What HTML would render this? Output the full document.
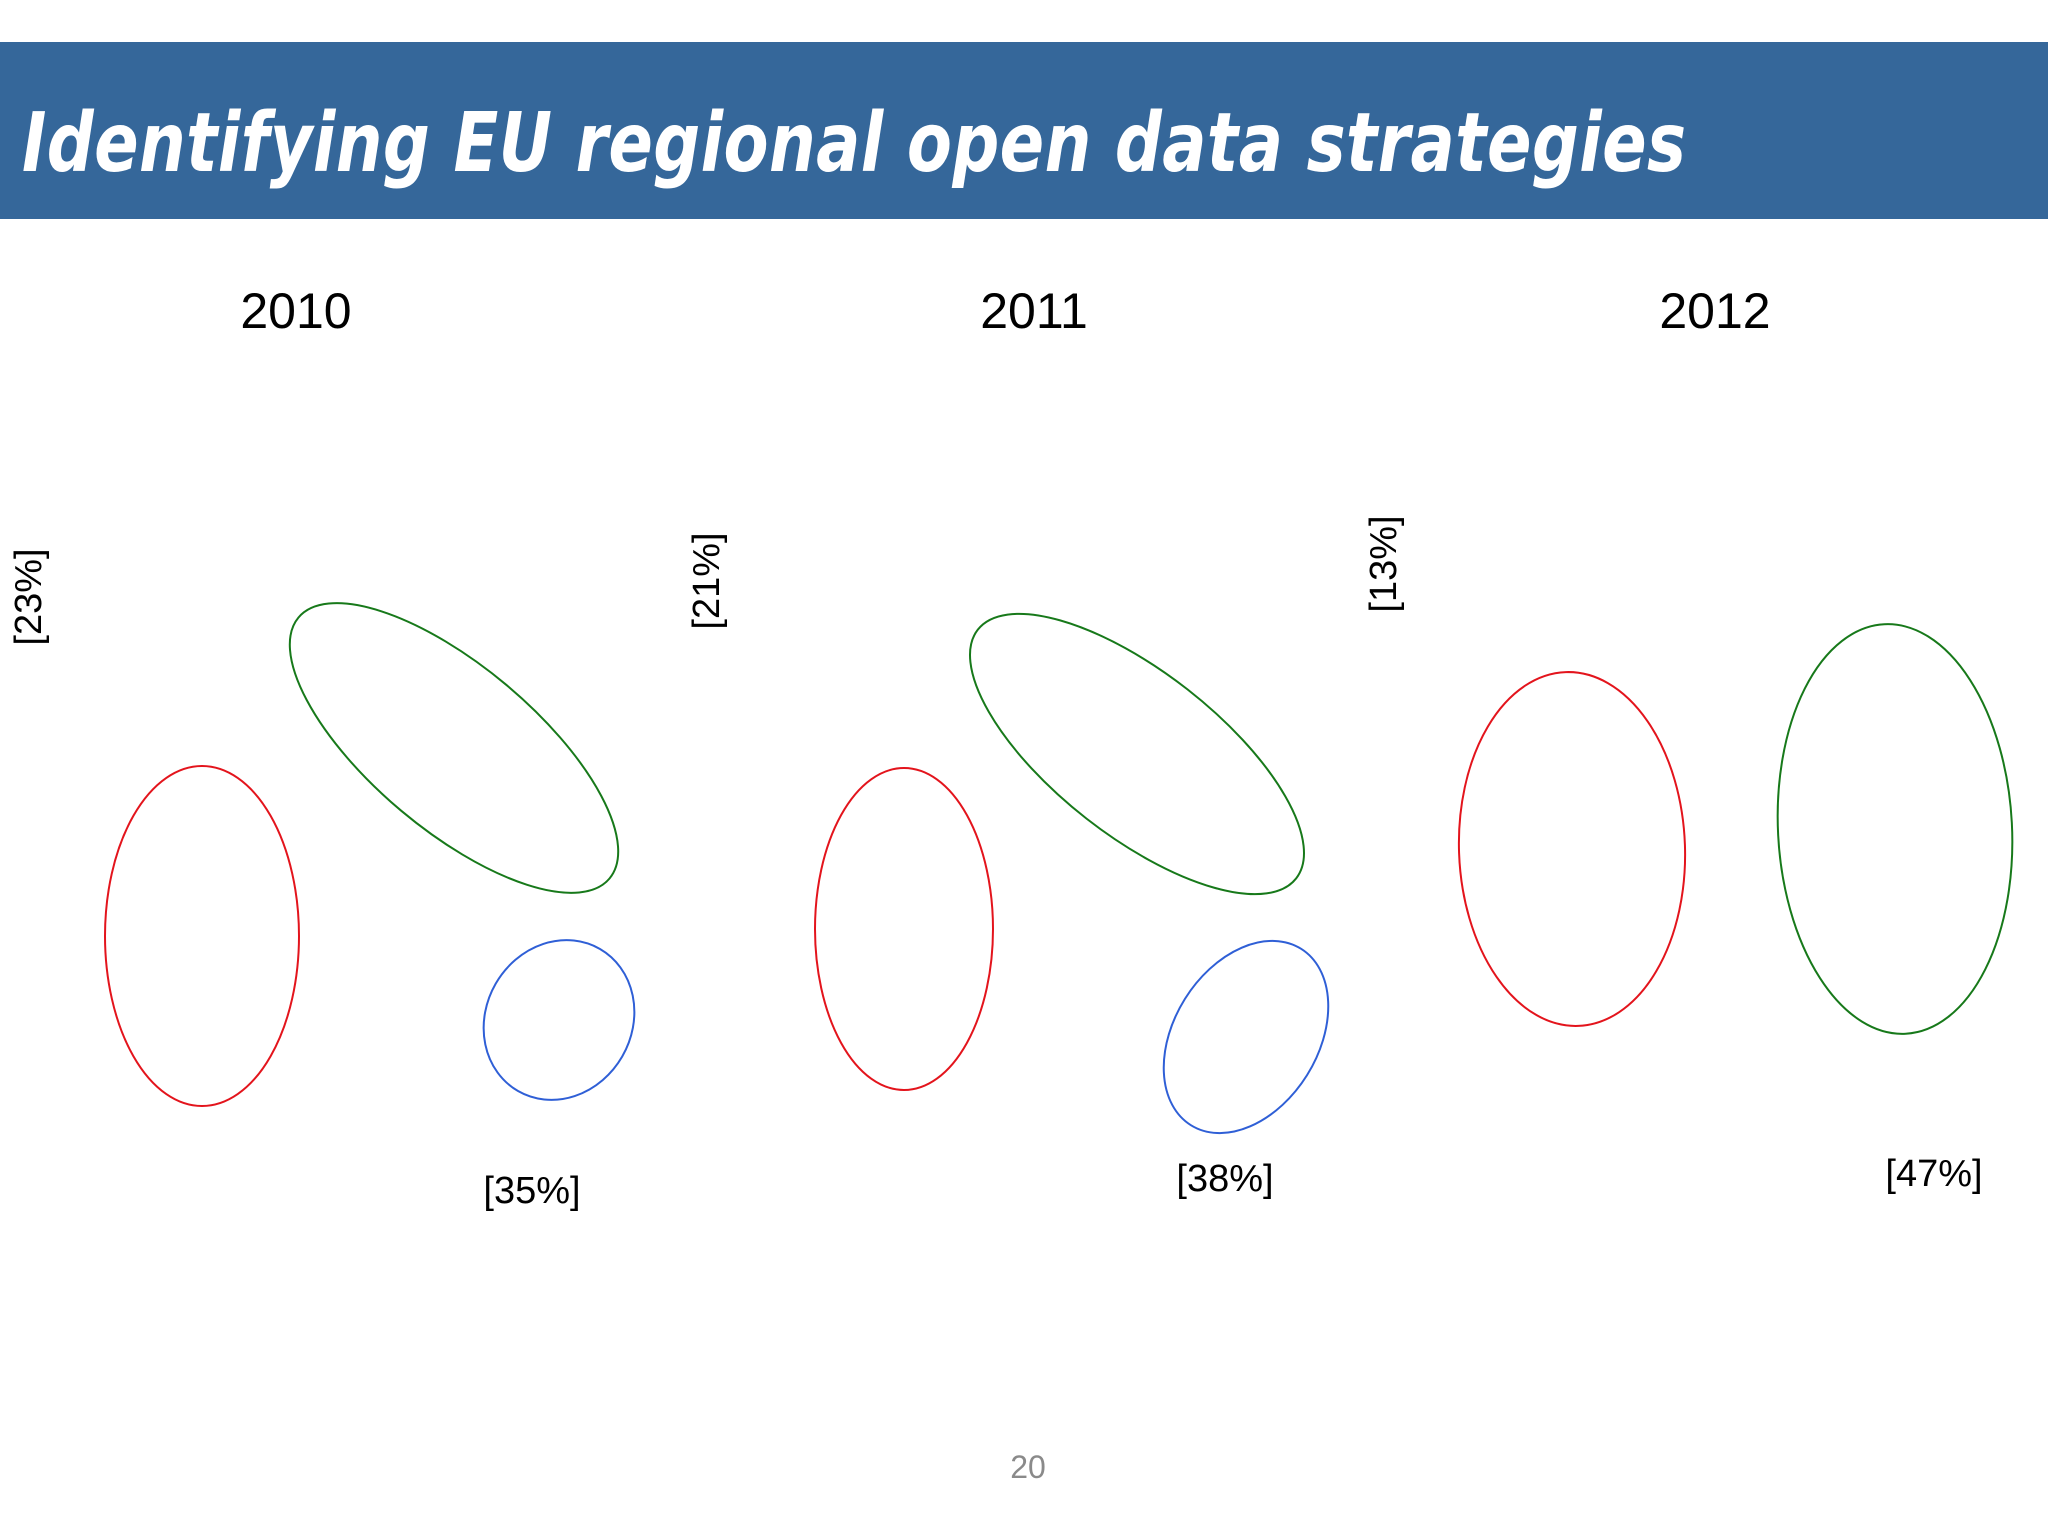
<!DOCTYPE html>
<html><head><meta charset="utf-8"><style>
html,body{margin:0;padding:0;background:#fff;}
body{width:2048px;height:1536px;position:relative;overflow:hidden;font-family:"Liberation Sans",sans-serif;}
#hdr{position:absolute;left:0;top:42px;width:2048px;height:177px;background:#35679a;}
#title{position:absolute;left:22px;top:96px;font-size:82px;font-weight:bold;font-style:italic;color:#fff;white-space:nowrap;letter-spacing:0.5px;font-family:"DejaVu Sans","Liberation Sans",sans-serif;transform:scaleX(0.80);transform-origin:left;}
</style></head><body>
<div id="hdr"></div>
<div id="title">Identifying EU regional open data strategies</div>
<svg id="chart" width="2048" height="1536" style="position:absolute;left:0;top:0"></svg>
<script>
const years = ["2010","2011","2012"];
const sideLabels = ["[23%]","[21%]","[13%]"];
const bottomLabels = ["[35%]","[38%]","[47%]"];
const yearX = [296,1034,1715];
const sideX = [29,707,1384];
const sideY = [597,581,564];
const bottomX = [532,1225,1934];
const bottomY = [1191,1179,1174];
const ellipses = [
 {cx:202,cy:936,rx:97,ry:170,rot:0,c:"#e3141c",n:"red-ellipse-2010"},
 {cx:454,cy:748,rx:203,ry:82,rot:40,c:"#17791a",n:"green-ellipse-2010"},
 {cx:559,cy:1020,rx:82,ry:73,rot:-60,c:"#2f5fd6",n:"blue-ellipse-2010"},
 {cx:904,cy:929,rx:89,ry:161,rot:0,c:"#e3141c",n:"red-ellipse-2011"},
 {cx:1137,cy:754,rx:202,ry:82,rot:38,c:"#17791a",n:"green-ellipse-2011"},
 {cx:1246,cy:1037,rx:104,ry:72,rot:-58,c:"#2f5fd6",n:"blue-ellipse-2011"},
 {cx:1572,cy:849,rx:113,ry:177,rot:-2,c:"#e3141c",n:"red-ellipse-2012"},
 {cx:1895,cy:829,rx:117,ry:205,rot:-3,c:"#17791a",n:"green-ellipse-2012"}
];
const svg=document.getElementById('chart');
const NS="http://www.w3.org/2000/svg";
function txt(x,y,s,size,rot,name){
 const t=document.createElementNS(NS,'text');
 t.setAttribute('x',x);t.setAttribute('y',y);
 t.setAttribute('font-size',size);t.setAttribute('text-anchor','middle');
 t.setAttribute('dominant-baseline','central');
 t.setAttribute('font-family','Liberation Sans, sans-serif');
 if(rot)t.setAttribute('transform','rotate(-90 '+x+' '+y+')');
 t.textContent=s;
 
 
 svg.appendChild(t);
}
ellipses.forEach(e=>{
 const el=document.createElementNS(NS,'ellipse');
 el.setAttribute('cx',e.cx);el.setAttribute('cy',e.cy);el.setAttribute('rx',e.rx);el.setAttribute('ry',e.ry);
 el.setAttribute('transform','rotate('+e.rot+' '+e.cx+' '+e.cy+')');
 el.setAttribute('fill','none');el.setAttribute('stroke',e.c);el.setAttribute('stroke-width','2');
 
 
 svg.appendChild(el);
});
years.forEach((y,i)=>txt(yearX[i],311,y,50,false,'year-label-'+y));
sideLabels.forEach((s,i)=>txt(sideX[i],sideY[i],s,38,true,'side-percent-'+years[i]));
bottomLabels.forEach((s,i)=>txt(bottomX[i],bottomY[i],s,38,false,'bottom-percent-'+years[i]));
const pn=document.createElementNS(NS,'text');
pn.setAttribute('x',1028);pn.setAttribute('y',1478);pn.setAttribute('font-size',32);
pn.setAttribute('text-anchor','middle');pn.setAttribute('fill','#8a8a8a');
pn.setAttribute('font-family','Liberation Sans, sans-serif');
pn.textContent='20';


svg.appendChild(pn);
</script>
</body></html>
